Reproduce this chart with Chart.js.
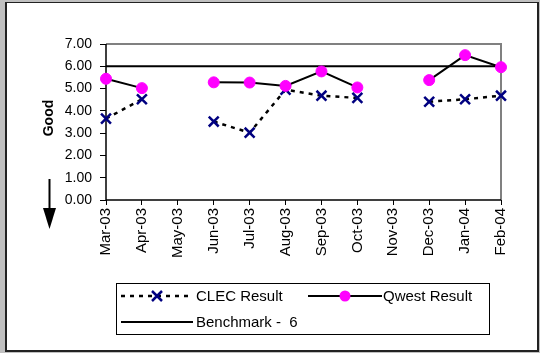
<!DOCTYPE html>
<html>
<head>
<meta charset="utf-8">
<script src="https://cdn.jsdelivr.net/npm/chart.js@4/dist/chart.umd.min.js"></script>
<style>
  html, body { margin: 0; padding: 0; background: #c0c0c0; width: 540px; height: 353px; overflow: hidden; }
  #frame { position: absolute; left: 5px; top: 2px; width: 530px; height: 347px; background: #fff;
           border-left: 2px solid #222; border-top: 1px solid #222; border-right: 2px solid #222; border-bottom: 2px solid #222; }
  #c { position: absolute; left: 0; top: 0; }
</style>
</head>
<body>
<div id="frame"></div>
<canvas id="c" width="540" height="353"></canvas>
<script>
const categories = ['Mar-03','Apr-03','May-03','Jun-03','Jul-03','Aug-03','Sep-03','Oct-03','Nov-03','Dec-03','Jan-04','Feb-04'];
const clecResult  = [3.65, 4.52, null, 3.52, 3.02, 4.95, 4.68, 4.58, null, 4.41, 4.52, 4.68];
const qwestResult = [5.44, 5.02, null, 5.28, 5.27, 5.12, 5.77, 5.05, null, 5.38, 6.50, 5.96];
const benchmarkValue = 6;
const benchmark = categories.map(() => benchmarkValue);
const yTicks = [0, 1, 2, 3, 4, 5, 6, 7];
const seriesNames = ['CLEC Result', 'Qwest Result', 'Benchmark -  6'];
const yTitle = 'Good';

const FONT = '"Liberation Sans", Arial, sans-serif';

const decorPlugin = {
  id: 'decor',
  beforeDatasetsDraw(chart) {
    const ctx = chart.ctx, a = chart.chartArea;
    ctx.save();
    ctx.strokeStyle = '#808080';
    ctx.lineWidth = 2;
    ctx.beginPath();
    ctx.moveTo(a.left, a.top); ctx.lineTo(a.right, a.top); ctx.lineTo(a.right, a.bottom);
    ctx.stroke();
    ctx.strokeStyle = '#000';
    ctx.lineWidth = 1.5;
    ctx.beginPath();
    ctx.moveTo(a.left, a.top); ctx.lineTo(a.left, a.bottom); ctx.lineTo(a.right, a.bottom);
    ctx.stroke();
    ctx.restore();
  },
  afterDraw(chart) {
    const ctx = chart.ctx;
    ctx.save();
    // y title
    ctx.translate(49, 118);
    ctx.rotate(-Math.PI / 2);
    ctx.font = 'bold 14px ' + FONT;
    ctx.fillStyle = '#000';
    ctx.textAlign = 'center';
    ctx.textBaseline = 'middle';
    ctx.fillText(yTitle, 0, 0);
    ctx.restore();
    // arrow
    ctx.save();
    ctx.strokeStyle = '#000';
    ctx.fillStyle = '#000';
    ctx.lineWidth = 2;
    ctx.beginPath(); ctx.moveTo(49.5, 179); ctx.lineTo(49.5, 210); ctx.stroke();
    ctx.beginPath(); ctx.moveTo(43, 208); ctx.lineTo(56, 208); ctx.lineTo(49.5, 229); ctx.closePath(); ctx.fill();
    ctx.restore();
    // legend
    ctx.save();
    ctx.strokeStyle = '#000';
    ctx.lineWidth = 1;
    ctx.strokeRect(116.5, 283.5, 373, 51);
    ctx.font = '15px ' + FONT;
    ctx.fillStyle = '#000';
    ctx.textBaseline = 'middle';
    ctx.textAlign = 'left';
    // CLEC
    let y = 296;
    ctx.lineWidth = 2.5;
    ctx.setLineDash([4, 5]);
    ctx.beginPath(); ctx.moveTo(121, y); ctx.lineTo(193, y); ctx.stroke();
    ctx.setLineDash([]);
    ctx.strokeStyle = '#000080';
    ctx.lineWidth = 2.5;
    ctx.beginPath(); ctx.moveTo(152, y - 5); ctx.lineTo(162, y + 5); ctx.moveTo(162, y - 5); ctx.lineTo(152, y + 5); ctx.stroke();
    ctx.fillText(seriesNames[0], 196, y + 1);
    // Qwest
    ctx.strokeStyle = '#000';
    ctx.lineWidth = 2;
    ctx.beginPath(); ctx.moveTo(308, y); ctx.lineTo(382, y); ctx.stroke();
    ctx.fillStyle = '#ff00ff';
    ctx.beginPath(); ctx.arc(345, y, 5.5, 0, Math.PI * 2); ctx.fill();
    ctx.fillStyle = '#000';
    ctx.fillText(seriesNames[1], 383, y + 1);
    // Benchmark
    y = 322;
    ctx.beginPath(); ctx.moveTo(121, y); ctx.lineTo(193, y); ctx.stroke();
    ctx.fillText(seriesNames[2], 196, y + 1);
    ctx.restore();
  }
};

new Chart(document.getElementById('c'), {
  type: 'line',
  data: {
    labels: categories,
    datasets: [
      {
        label: seriesNames[1], data: qwestResult, order: 0, clip: false,
        borderColor: '#000', borderWidth: 2, tension: 0, spanGaps: false,
        pointStyle: 'circle', pointRadius: 5.5, pointBackgroundColor: '#ff00ff', pointBorderColor: '#ff00ff', pointBorderWidth: 1
      },
      {
        label: seriesNames[0], data: clecResult, order: 1, clip: false,
        borderColor: '#000', borderWidth: 2.5, borderDash: [4, 5], tension: 0, spanGaps: false,
        pointStyle: 'crossRot', pointRadius: 7, pointBorderColor: '#000080', pointBackgroundColor: '#000080', pointBorderWidth: 2.5
      },
      {
        label: seriesNames[2], data: benchmark, order: 2, clip: false,
        borderColor: '#000', borderWidth: 2, pointRadius: 0, tension: 0
      }
    ]
  },
  options: {
    responsive: false,
    animation: false,
    devicePixelRatio: 1,
    layout: { padding: { top: 44, right: 39, left: 0, bottom: 0 } },
    plugins: { legend: { display: false }, tooltip: { enabled: false } },
    scales: {
      x: {
        offset: false,
        grid: { display: true, drawOnChartArea: false, drawTicks: true, tickLength: 5, color: '#000', lineWidth: 1 },
        border: { display: false },
        ticks: { autoSkip: false, maxRotation: 90, minRotation: 90, padding: 3, color: '#000', font: { family: FONT, size: 15 } },
        afterFit(scale) { scale.height = 153; }
      },
      y: {
        min: 0, max: 7,
        afterBuildTicks(scale) { scale.ticks = yTicks.map(v => ({ value: v })); },
        grid: { display: true, drawOnChartArea: false, drawTicks: true, tickLength: 6, color: '#000', lineWidth: 1 },
        border: { display: false },
        ticks: { padding: 8, color: '#000', font: { family: FONT, size: 14 }, callback: v => Number(v).toFixed(2) },
        afterFit(scale) { scale.width = 106; }
      }
    }
  },
  plugins: [decorPlugin]
});
</script>
</body>
</html>
